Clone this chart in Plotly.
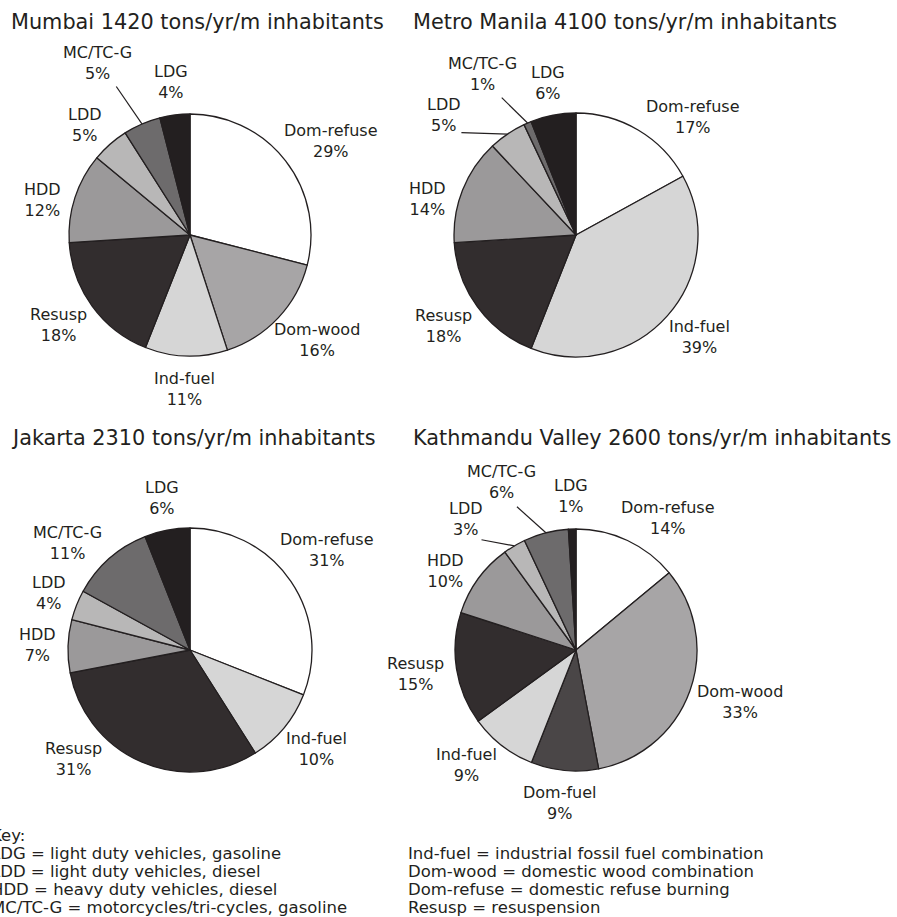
import math
import plotly.graph_objects as go

W, H = 897, 917
FONT = "DejaVu Sans"
INK = "#231f20"

# ---------------- data ----------------
mumbai_labels = ["Dom-refuse", "Dom-wood", "Ind-fuel", "Resusp", "HDD", "LDD", "MC/TC-G", "LDG"]
mumbai_values = [29, 16, 11, 18, 12, 5, 5, 4]

manila_labels = ["Dom-refuse", "Ind-fuel", "Resusp", "HDD", "LDD", "MC/TC-G", "LDG"]
manila_values = [17, 39, 18, 14, 5, 1, 6]

jakarta_labels = ["Dom-refuse", "Ind-fuel", "Resusp", "HDD", "LDD", "MC/TC-G", "LDG"]
jakarta_values = [31, 10, 31, 7, 4, 11, 6]

kathmandu_labels = ["Dom-refuse", "Dom-wood", "Dom-fuel", "Ind-fuel", "Resusp", "HDD", "LDD", "MC/TC-G", "LDG"]
kathmandu_values = [14, 33, 9, 9, 15, 10, 3, 6, 1]

titles = [
    "Mumbai 1420 tons/yr/m inhabitants",
    "Metro Manila 4100 tons/yr/m inhabitants",
    "Jakarta 2310 tons/yr/m inhabitants",
    "Kathmandu Valley 2600 tons/yr/m inhabitants",
]

key_left = [
    "Key:",
    "LDG = light duty vehicles, gasoline",
    "LDD = light duty vehicles, diesel",
    "HDD = heavy duty vehicles, diesel",
    "MC/TC-G = motorcycles/tri-cycles, gasoline",
]
key_right = [
    "Ind-fuel = industrial fossil fuel combination",
    "Dom-wood = domestic wood combination",
    "Dom-refuse = domestic refuse burning",
    "Resusp = resuspension",
]

# ---------------- styles ----------------
colors = {
    "Dom-refuse": "#ffffff",
    "Dom-wood": "#a7a5a6",
    "Dom-fuel": "#4a4647",
    "Ind-fuel": "#d6d6d6",
    "Resusp": "#322d2e",
    "HDD": "#9b999a",
    "LDD": "#b8b7b7",
    "MC/TC-G": "#6d6b6c",
    "LDG": "#231f20",
}

# layout of each panel (pixels): centre x, centre y, radius, title x, title y
panels = [
    dict(labels=mumbai_labels, values=mumbai_values, title=titles[0],
         cx=190, cy=235, r=121, tx=9, ty=22,
         nudge={"MC/TC-G": -3, "HDD": -5, "LDD": -3},
         leaders={"MC/TC-G": 1.37}),
    dict(labels=manila_labels, values=manila_values, title=titles[1],
         cx=576, cy=235, r=122, tx=411, ty=22,
         nudge={"Dom-refuse": 10, "LDD": -14, "MC/TC-G": -5, "HDD": -8},
         leaders={"LDD": 1.26, "MC/TC-G": 1.28}),
    dict(labels=jakarta_labels, values=jakarta_values, title=titles[2],
         cx=190, cy=650, r=122, tx=9, ty=438,
         nudge={"Dom-refuse": -6, "Resusp": 22, "MC/TC-G": -5},
         leaders={}),
    dict(labels=kathmandu_labels, values=kathmandu_values, title=titles[3],
         cx=576, cy=650, r=121, tx=411, ty=438,
         nudge={"Dom-refuse": 6, "Ind-fuel": 4, "HDD": -5, "LDD": -10, "MC/TC-G": -8},
         leaders={"LDD": 1.2, "MC/TC-G": 1.28}),
]

LABEL_FS = 16
TITLE_FS = 20.8
KEY_FS = 16.5


def px2paper(x, y):
    return x / W, 1 - y / H


def text_width(s, fs):
    narrow = set("iltfrI-/ .,:1j")
    wide = set("MmDGCHwOQNU%")
    w = 0.0
    for ch in s:
        if ch in narrow:
            w += 0.34
        elif ch in wide:
            w += 0.78
        else:
            w += 0.62
    return w * fs


fig = go.Figure()
annotations = []
shapes = []

for p in panels:
    cx, cy, r = p["cx"], p["cy"], p["r"]
    x0, y1 = px2paper(cx - r, cy - r)
    x1, y0 = px2paper(cx + r, cy + r)
    fig.add_trace(go.Pie(
        labels=p["labels"], values=p["values"],
        sort=False, direction="clockwise", rotation=0,
        marker=dict(colors=[colors[l] for l in p["labels"]],
                    line=dict(color=INK, width=1.3)),
        textinfo="none", hoverinfo="label+percent",
        domain=dict(x=[x0, x1], y=[y0, y1]),
        showlegend=False,
    ))

    # title
    tx, ty = px2paper(p["tx"], p["ty"])
    annotations.append(dict(x=tx, y=ty, xref="paper", yref="paper",
                            xanchor="left", yanchor="middle", showarrow=False,
                            text=p["title"], font=dict(family=FONT, size=TITLE_FS, color=INK)))

    total = sum(p["values"])
    cum = 0.0
    for lab, v in zip(p["labels"], p["values"]):
        mid = (cum + v / 2) / total * 360
        cum += v
        pct = f"{round(v / total * 100)}%"
        th = math.radians(mid + p["nudge"].get(lab, 0))
        dx, dy = math.sin(th), -math.cos(th)
        w = max(text_width(lab, LABEL_FS), text_width(pct, LABEL_FS))
        h = 2 * 1.3 * LABEL_FS
        if lab in p["leaders"]:
            f = p["leaders"][lab]
            th0 = math.radians(mid)
            ix, iy = cx + r * math.sin(th0), cy - r * math.cos(th0)
            ox, oy = cx + f * r * dx, cy + f * r * dy
            a, b = px2paper(ix, iy)
            c, d = px2paper(ox, oy)
            shapes.append(dict(type="line", xref="paper", yref="paper",
                               x0=a, y0=b, x1=c, y1=d,
                               line=dict(color=INK, width=1.2)))
            dist = f * r + 6
        else:
            dist = r + 12
        lx = cx + dist * dx + dx * w / 2
        ly = cy + dist * dy + dy * h / 2
        ax, ay = px2paper(lx, ly)
        annotations.append(dict(x=ax, y=ay, xref="paper", yref="paper",
                                xanchor="center", yanchor="middle", align="center",
                                showarrow=False, text=f"{lab}<br>{pct}",
                                font=dict(family=FONT, size=LABEL_FS, color=INK)))

# key (left column is cropped at the page edge, as in the source figure)
key_y0 = 835
key_dy = 18
for i, line in enumerate(key_left):
    x, y = px2paper(-11.5, key_y0 + i * key_dy)
    annotations.append(dict(x=x, y=y, xref="paper", yref="paper",
                            xanchor="left", yanchor="middle", showarrow=False,
                            text=line, font=dict(family=FONT, size=KEY_FS, color=INK)))
for i, line in enumerate(key_right):
    x, y = px2paper(406, key_y0 + (i + 1) * key_dy)
    annotations.append(dict(x=x, y=y, xref="paper", yref="paper",
                            xanchor="left", yanchor="middle", showarrow=False,
                            text=line, font=dict(family=FONT, size=KEY_FS, color=INK)))

fig.update_layout(
    width=W, height=H,
    margin=dict(l=0, r=0, t=0, b=0),
    paper_bgcolor="white", plot_bgcolor="white",
    annotations=annotations, shapes=shapes,
    showlegend=False,
)

fig.write_html("out.html", config={"displayModeBar": False},
               post_script="document.body.style.margin='0';")
